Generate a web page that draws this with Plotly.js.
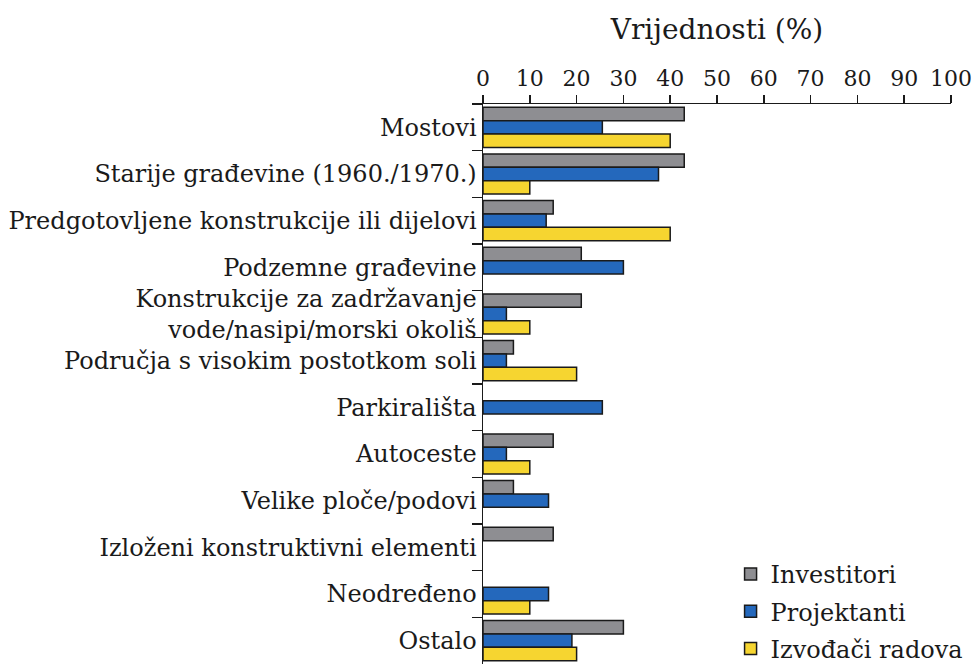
<!DOCTYPE html>
<html>
<head>
<meta charset="utf-8">
<script src="https://cdn.plot.ly/plotly-3.0.1.min.js"></script>
<style>html,body{margin:0;padding:0;background:#fff;}#chart{width:978px;height:664px;}</style>
</head>
<body>
<div id="chart"></div>
<script>
var categories = [
  "Mostovi",
  "Starije građevine (1960./1970.)",
  "Predgotovljene konstrukcije ili dijelovi",
  "Podzemne građevine",
  "Konstrukcije za zadržavanje<br>vode/nasipi/morski okoliš",
  "Područja s visokim postotkom soli",
  "Parkirališta",
  "Autoceste",
  "Velike ploče/podovi",
  "Izloženi konstruktivni elementi",
  "Neodređeno",
  "Ostalo"
];
var investitori  = [43, 43, 15, 21, 21, 6.5, 0, 15, 6.5, 15, 0, 30];
var projektanti  = [25.5, 37.5, 13.5, 30, 5, 5, 25.5, 5, 14, 0, 14, 19];
var izvodaci     = [40, 10, 40, 0, 10, 20, 0, 10, 0, 0, 10, 20];
var seriesNames = ["Investitori", "Projektanti", "Izvođači radova"];
var xTicks = [0, 10, 20, 30, 40, 50, 60, 70, 80, 90, 100];

var FONT = "DejaVu Serif, Liberation Serif, serif";
var colors = ["#8e8e92", "#2468bc", "#f6d530"];
var seriesData = [investitori, projektanti, izvodaci];

var traces = seriesData.map(function (vals, i) {
  return {
    type: "bar",
    orientation: "h",
    name: seriesNames[i],
    legendgroup: "g" + i,
    y: categories,
    x: vals.map(function (v) { return v === 0 ? null : v; }),
    marker: { color: colors[i], line: { color: "#1a1a1a", width: 1.5 } },
    hoverinfo: "x+name"
  };
});

var layout = {
  width: 978,
  height: 664,
  margin: { l: 483, r: 27, t: 104, b: 0, autoexpand: false },
  paper_bgcolor: "#fff",
  plot_bgcolor: "#fff",
  font: { family: FONT, size: 22, color: "#1a1a1a" },
  barmode: "group",
  bargap: 0.14,
  bargroupgap: 0,
  title: {
    text: "Vrijednosti (%)",
    font: { family: FONT, size: 28, color: "#1a1a1a" },
    xref: "paper", x: 0.5, xanchor: "center",
    yref: "container", y: 0.956, yanchor: "middle"
  },
  xaxis: {
    side: "top",
    range: [0, 100],
    tickvals: xTicks,
    ticktext: xTicks.map(String),
    ticks: "outside",
    ticklen: 8,
    tickwidth: 1.5,
    tickcolor: "#1a1a1a",
    showline: true,
    linecolor: "#1a1a1a",
    linewidth: 1.5,
    showgrid: false,
    zeroline: false,
    tickfont: { family: FONT, size: 22, color: "#1a1a1a" },
    fixedrange: true
  },
  yaxis: {
    type: "category",
    autorange: "reversed",
    tickson: "boundaries",
    ticks: "outside",
    ticklen: 10,
    tickwidth: 1.5,
    tickcolor: "#1a1a1a",
    showline: true,
    linecolor: "#1a1a1a",
    linewidth: 1.5,
    showgrid: false,
    zeroline: false,
    tickfont: { family: FONT, size: 24, color: "#1a1a1a" },
    fixedrange: true
  },
  legend: {
    x: 0.529, xanchor: "left",
    y: 0.2, yanchor: "top",
    tracegroupgap: 3,
    traceorder: "grouped",
    bgcolor: "rgba(255,255,255,0)",
    font: { family: FONT, size: 24, color: "#1a1a1a" }
  },
  showlegend: true
};

Plotly.newPlot("chart", traces, layout, { displayModeBar: false, staticPlot: true });
</script>
</body>
</html>
